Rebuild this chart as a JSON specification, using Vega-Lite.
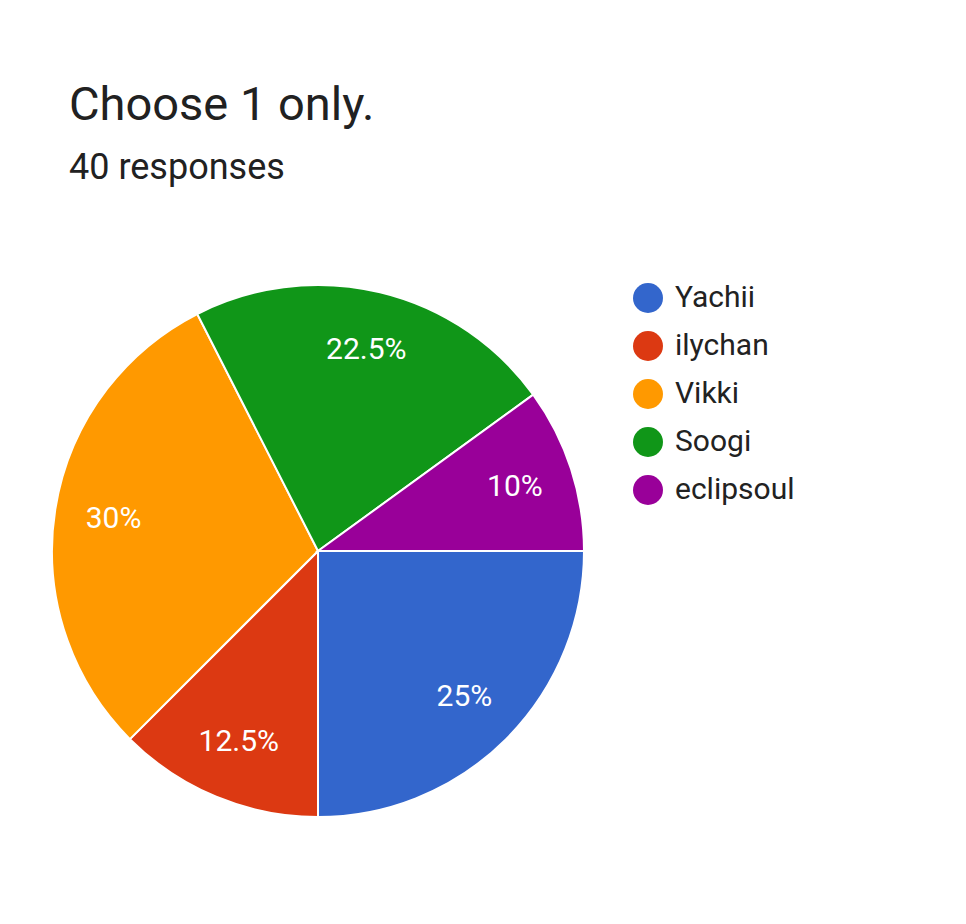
{
  "$schema": "https://vega.github.io/schema/vega-lite/v6.json",
  "autosize": "none",
  "width": 532,
  "height": 532,
  "padding": {"left": 52, "top": 285, "right": 382, "bottom": 107},
  "background": "white",
  "title": {
    "text": "Choose 1 only.",
    "subtitle": "40 responses",
    "anchor": "start",
    "dx": 21,
    "offset": 94,
    "font": "Roboto",
    "fontSize": 47,
    "fontWeight": "normal",
    "color": "#212121",
    "subtitleFont": "Roboto",
    "subtitleFontSize": 36,
    "subtitleColor": "#212121",
    "subtitlePadding": 21
  },
  "data": {
    "values": [
      {"name": "Yachii", "count": 10, "share": 0.25, "order": 1},
      {"name": "ilychan", "count": 5, "share": 0.125, "order": 2},
      {"name": "Vikki", "count": 12, "share": 0.3, "order": 3},
      {"name": "Soogi", "count": 9, "share": 0.225, "order": 4},
      {"name": "eclipsoul", "count": 4, "share": 0.1, "order": 5}
    ]
  },
  "encoding": {
    "theta": {
      "field": "count",
      "type": "quantitative",
      "stack": true,
      "scale": {"range": [1.5708, 7.854]}
    },
    "order": {"field": "order", "type": "quantitative"}
  },
  "layer": [
    {
      "mark": {"type": "arc", "outerRadius": 266, "stroke": "white", "strokeWidth": 2},
      "encoding": {
        "color": {
          "field": "name",
          "type": "nominal",
          "sort": ["Yachii", "ilychan", "Vikki", "Soogi", "eclipsoul"],
          "scale": {"range": ["#3366cc", "#dc3912", "#ff9900", "#109618", "#990099"]},
          "legend": {
            "title": null,
            "orient": "none",
            "legendX": 581,
            "legendY": -2,
            "symbolType": "circle",
            "symbolSize": 900,
            "symbolStrokeWidth": 0,
            "symbolOpacity": 1,
            "labelFont": "Roboto",
            "labelFontSize": 30,
            "labelColor": "#222222",
            "labelOffset": 12,
            "rowPadding": 18
          }
        }
      }
    },
    {
      "mark": {"type": "text", "radius": 207, "font": "Roboto", "fontSize": 30, "color": "white"},
      "encoding": {
        "text": {"field": "share", "type": "quantitative", "format": ".3~%"}
      }
    }
  ]
}
